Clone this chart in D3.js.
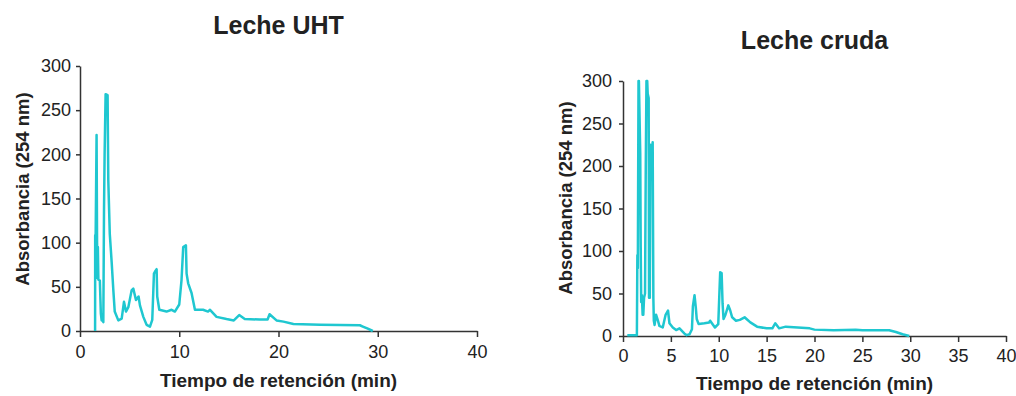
<!DOCTYPE html>
<html>
<head>
<meta charset="utf-8">
<script src="https://cdn.jsdelivr.net/npm/d3@7"></script>
<style>
  body { margin: 0; background: #fff; }
  svg text { font-family: "Liberation Sans", Arial, sans-serif; fill: #222; }
</style>
</head>
<body>
<div id="main"></div>
<script>
// Leche UHT: retention time (min) and absorbance (254 nm)
const uhtTime = [
  1.52, 1.53, 1.58, 1.67, 1.72, 1.76, 1.8, 1.85, 2.0, 2.1,
  2.18, 2.27, 2.35, 2.42, 2.48, 2.58, 2.78, 2.85, 3.0, 3.19,
  3.36, 3.5, 3.86, 4.2, 4.43, 4.63, 4.87, 5.2, 5.37, 5.64,
  5.9, 6.04, 6.38, 6.71, 7.05, 7.28, 7.45, 7.6, 7.72, 7.78,
  7.99, 8.72, 9.23, 9.56, 10.0, 10.23, 10.4, 10.67, 10.74, 10.9,
  11.24, 11.58, 12.4, 12.9, 13.1, 13.76, 14.76, 15.5, 16.04, 16.6,
  18.1, 18.9, 19.1, 19.8, 20.5, 21.5, 24.2, 28.2, 28.5, 29.0,
  29.5
];
const uhtAbs = [
  0, 108, 110, 222, 100, 60, 95, 58, 57, 20,
  12, 18, 10, 137, 200, 268, 267, 171, 110, 78,
  46, 22, 12, 14, 33, 22, 27, 46, 48, 35,
  39, 29, 16, 7, 5, 12.5, 65, 68, 70, 39,
  24, 22, 24, 22, 30, 58, 95, 97, 65, 54,
  43, 24, 24, 22, 24, 16, 13.5, 12, 18, 13.5,
  13, 13, 19, 12, 10.6, 8, 7, 6.5, 5, 2.6,
  0
];

// Leche cruda
const crudaTime = [
  0.45, 1.45, 1.5, 1.55, 1.62, 1.66, 1.8, 1.85, 1.9, 1.97,
  2.05, 2.12, 2.2, 2.3, 2.38, 2.45, 2.53, 2.58, 2.68, 2.72,
  2.8, 2.87, 3.0, 3.1, 3.17, 3.22, 3.3, 3.45, 3.65, 3.8,
  4.15, 4.45, 4.7, 4.85, 5.2, 5.55, 5.9, 6.4, 6.65, 6.95,
  7.2, 7.3, 7.47, 7.6, 7.7, 7.9, 8.5, 9.0, 9.1, 9.6,
  9.95, 10.05, 10.15, 10.3, 10.4, 10.5, 10.7, 11.0, 11.2, 11.4,
  11.8, 12.2, 12.7, 12.9, 13.3, 14.0, 15.0, 15.6, 15.9, 16.3,
  17.0, 19.5, 20.0, 22.0, 24.3, 25.0, 27.8, 28.5, 29.2, 29.9
];
const crudaAbs = [
  1, 1, 95, 80, 300, 300, 215, 105, 40, 48,
  25, 25, 45, 50, 203, 300, 300, 285, 280, 45,
  45, 225, 212, 228, 45, 18, 13, 25, 18, 12,
  10, 25, 30, 15, 10, 7, 9, 3, 1, 2,
  8, 35, 48, 34, 20, 14, 15, 16, 18, 10,
  14, 45, 75, 74, 38, 20, 25, 36, 30, 22,
  18, 19, 22, 20, 16, 11, 9, 9, 15, 9,
  11, 9, 7.5, 6.7, 7.4, 6.7, 6.7, 4.7, 2, 0
];

const uhtXTicks = [0, 10, 20, 30, 40];
const crudaXTicks = [0, 5, 10, 15, 20, 25, 30, 35, 40];
const yTicks = [0, 50, 100, 150, 200, 250, 300];

const svg = d3.select("#main")
    .append("svg")
    .attr("width", 1016)
    .attr("height", 396);

function drawChart(opts) {
    const x = d3.scaleLinear().domain([0, 40]).range([opts.left, opts.right]);
    const y = d3.scaleLinear().domain([0, 300]).range([opts.bottom, opts.top]).clamp(true);

    const g = svg.append("g");

    const xAxis = g.append("g")
        .attr("transform", `translate(0,${opts.bottom})`)
        .call(d3.axisBottom(x).tickValues(opts.xTicks).tickSize(6).tickSizeOuter(0).tickPadding(opts.xPad));
    const yAxis = g.append("g")
        .attr("transform", `translate(${opts.left},0)`)
        .call(d3.axisLeft(y).tickValues(yTicks).tickSize(4).tickSizeOuter(0).tickPadding(opts.yPad));

    [xAxis, yAxis].forEach(a => {
        a.selectAll("path, line").attr("stroke", "#333").attr("stroke-width", 1.5);
        a.selectAll("text")
            .style("font-size", "18px")
            .style("font-family", "'Liberation Sans', Arial, sans-serif")
            .attr("fill", "#222");
    });

    const pts = opts.time.map((t, i) => [t, opts.abs[i]]);
    const line = d3.line().x(d => x(d[0])).y(d => y(d[1]));
    g.append("path")
        .datum(pts)
        .attr("d", line)
        .attr("fill", "none")
        .attr("stroke", "#1fc7d0")
        .attr("stroke-width", 2.5)
        .attr("stroke-linejoin", "round");

    g.append("text")
        .attr("x", (opts.left + opts.right) / 2)
        .attr("y", opts.titleY)
        .attr("text-anchor", "middle")
        .style("font-size", "25px")
        .style("font-weight", "bold")
        .text(opts.title);

    g.append("text")
        .attr("x", (opts.left + opts.right) / 2)
        .attr("y", opts.xLabelY)
        .attr("text-anchor", "middle")
        .style("font-size", "19px")
        .style("font-weight", "bold")
        .text("Tiempo de retención (min)");

    g.append("text")
        .attr("transform", `translate(${opts.yLabelX},${opts.yLabelCy}) rotate(-90)`)
        .attr("text-anchor", "middle")
        .style("font-size", "18.5px")
        .style("font-weight", "bold")
        .text("Absorbancia (254 nm)");
}

drawChart({
    title: "Leche UHT", time: uhtTime, abs: uhtAbs, xTicks: uhtXTicks,
    left: 80, right: 477, top: 66, bottom: 331,
    xPad: 8, yPad: 5, titleY: 34, xLabelY: 387, yLabelX: 29, yLabelCy: 189
});

drawChart({
    title: "Leche cruda", time: crudaTime, abs: crudaAbs, xTicks: crudaXTicks,
    left: 623, right: 1006, top: 81, bottom: 336,
    xPad: 7, yPad: 7, titleY: 49, xLabelY: 390, yLabelX: 572, yLabelCy: 198
});
</script>
</body>
</html>
